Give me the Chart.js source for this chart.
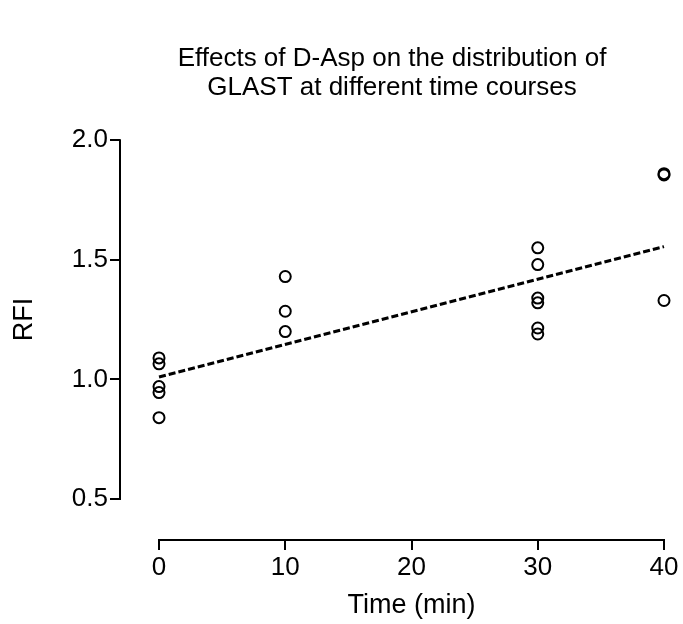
<!DOCTYPE html>
<html>
<head>
<meta charset="utf-8">
<script src="https://cdn.jsdelivr.net/npm/chart.js@4"></script>
<style>
  html, body { margin: 0; padding: 0; background: #fff; }
  #wrap { width: 683px; height: 624px; }
</style>
</head>
<body>
<div id="wrap"><canvas id="c" width="683" height="624"></canvas></div>
<script>
// Individual measurements: time point (min) and relative fluorescence intensity
const timeMin = [0, 0, 0, 0, 0, 10, 10, 10, 30, 30, 30, 30, 30, 30, 40, 40, 40];
const rfi = [1.09, 1.065, 0.97, 0.945, 0.84, 1.43, 1.285, 1.20, 1.55, 1.48, 1.34, 1.32, 1.215, 1.19, 1.86, 1.855, 1.33];

// Linear fit drawn across the time range
const fitTime = [0, 40];
const fitRfi = [1.01, 1.555];

// Axis ticks
const xTicks = [0, 10, 20, 30, 40];
const yTicks = [0.5, 1.0, 1.5, 2.0];

const xTitle = 'Time (min)';
const yTitle = 'RFI';

const FONT = "'Liberation Sans', Arial, Helvetica, sans-serif";

const points = timeMin.map((t, i) => ({ x: t, y: rfi[i] }));
const fitLine = fitTime.map((t, i) => ({ x: t, y: fitRfi[i] }));

// Detached axes: each axis line runs only from its first to its last tick,
// and each axis title is centred on its own line.
const axisLines = {
  id: 'axisLines',
  afterDraw(chart) {
    const { ctx, scales: { x, y } } = chart;
    const yx = chart.chartArea.left;
    const xy = chart.chartArea.bottom;
    const yTop = y.getPixelForValue(yTicks[yTicks.length - 1]);
    const yBot = y.getPixelForValue(yTicks[0]);
    const xL = x.getPixelForValue(xTicks[0]);
    const xR = x.getPixelForValue(xTicks[xTicks.length - 1]);
    ctx.save();
    ctx.strokeStyle = '#000';
    ctx.lineWidth = 2;
    ctx.lineCap = 'square';
    ctx.beginPath();
    ctx.moveTo(yx, yBot);
    ctx.lineTo(yx, yTop);
    ctx.stroke();
    ctx.beginPath();
    ctx.moveTo(xL, xy);
    ctx.lineTo(xR, xy);
    ctx.stroke();

    ctx.fillStyle = '#000';
    ctx.font = '27px ' + FONT;
    ctx.textAlign = 'center';
    ctx.textBaseline = 'middle';
    ctx.fillText(xTitle, (xL + xR) / 2, 606);
    ctx.translate(25, (yTop + yBot) / 2);
    ctx.rotate(-Math.PI / 2);
    ctx.fillText(yTitle, 0, 0);
    ctx.restore();
  }
};

new Chart(document.getElementById('c'), {
  type: 'scatter',
  data: {
    datasets: [
      {
        label: 'RFI',
        data: points,
        pointStyle: 'circle',
        pointRadius: 5.5,
        pointBorderWidth: 2,
        pointBorderColor: '#000',
        pointBackgroundColor: 'rgba(255,255,255,0)',
        clip: false
      },
      {
        type: 'line',
        label: 'Fit',
        data: fitLine,
        borderColor: '#000',
        borderWidth: 3,
        borderDash: [7, 3],
        pointRadius: 0,
        fill: false,
        clip: false
      }
    ]
  },
  options: {
    responsive: false,
    animation: false,
    layout: { padding: { left: 0, right: 19, top: 0, bottom: 0 } },
    plugins: {
      legend: { display: false },
      tooltip: { enabled: false },
      title: {
        display: true,
        fullSize: false,
        text: ['Effects of D-Asp on the distribution of', 'GLAST at different time courses'],
        color: '#000',
        font: { family: FONT, size: 26, weight: 'normal', lineHeight: 1.1 },
        padding: { top: 45, bottom: 38 }
      }
    },
    scales: {
      x: {
        type: 'linear',
        min: -3.09,
        max: 40,
        afterFit(s) { s.height = 84; },
        afterBuildTicks(s) { s.ticks = xTicks.map(v => ({ value: v })); },
        border: { display: false },
        grid: {
          drawOnChartArea: false,
          drawTicks: true,
          tickLength: 10,
          color: '#000',
          lineWidth: 2
        },
        ticks: {
          color: '#000',
          padding: 2,
          font: { family: FONT, size: 26 },
          maxRotation: 0,
          callback: v => String(v)
        },
        title: { display: false }
      },
      y: {
        type: 'linear',
        min: 0.3287,
        max: 2.0,
        afterFit(s) { s.width = 120; },
        afterBuildTicks(s) { s.ticks = yTicks.map(v => ({ value: v })); },
        border: { display: false },
        grid: {
          drawOnChartArea: false,
          drawTicks: true,
          tickLength: 10,
          color: '#000',
          lineWidth: 2
        },
        ticks: {
          color: '#000',
          padding: 2,
          font: { family: FONT, size: 26 },
          callback: v => Number(v).toFixed(1)
        },
        title: { display: false }
      }
    }
  },
  plugins: [axisLines]
});
</script>
</body>
</html>
